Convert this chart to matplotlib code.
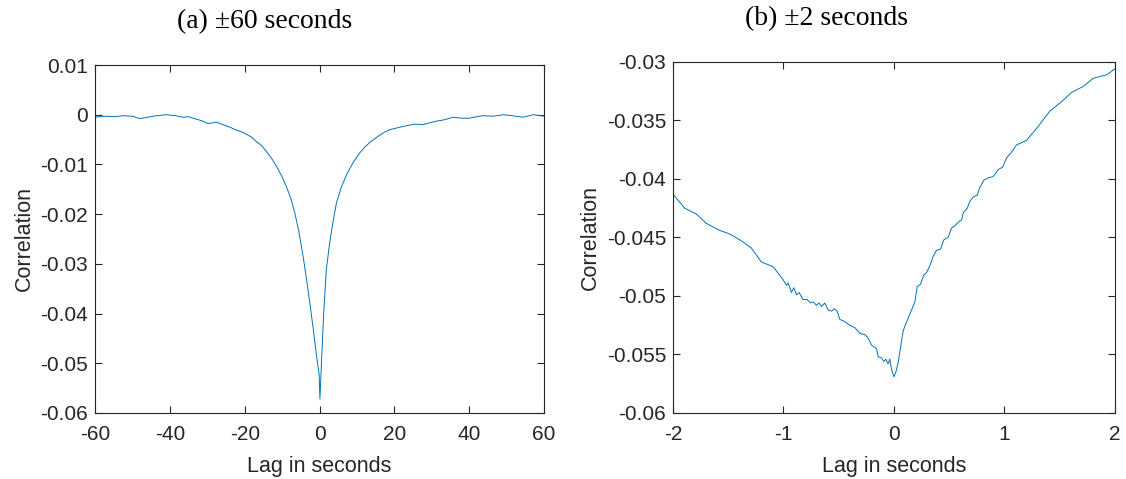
import matplotlib
matplotlib.use("Agg")
import matplotlib.pyplot as plt
from matplotlib.ticker import FuncFormatter

plt.rcParams["font.family"] = ["Liberation Sans", "DejaVu Sans"]
plt.rcParams["axes.unicode_minus"] = False

# (a) +-60 seconds
lag_a = [-60, -57, -54.5, -52.5, -50, -48, -46, -43.5, -41, -38.5, -36.5, -35, -33.4,
         -31.5, -29.8, -27.6, -25.8, -24, -22.2, -21, -19.6, -18.2, -16.9, -15.5, -14.2,
         -12.8, -11.5, -10.2, -8.9, -7.7, -6.6, -5.5, -4.4, -3.5, -2.6, -1.7, -0.8,
         -0.1, 0.1, 0.5, 1.1, 1.8, 2.7, 3.6, 4.5, 5.8, 7.2, 8.9, 10.7, 12, 13.4, 14.8,
         16.1, 17.4, 18.8, 21, 23.2, 25.5, 27.7, 29.5, 31.2, 33.5, 35.7, 38, 40.1, 42,
         43.7, 46.5, 49.1, 51.5, 54.4, 57.1, 60]
corr_a = [-0.0005, -0.0003, -0.0004, -0.0002, -0.0003, -0.0008, -0.0005, -0.0002, 0.0,
          -0.0002, -0.0005, -0.0004, -0.0008, -0.0012, -0.0018, -0.0015, -0.002,
          -0.0025, -0.0031, -0.0034, -0.0039, -0.0045, -0.0054, -0.0062, -0.0074,
          -0.0088, -0.0104, -0.0122, -0.0144, -0.0168, -0.0198, -0.0236, -0.0285,
          -0.0330, -0.0379, -0.0430, -0.0486, -0.0523, -0.0572, -0.0500, -0.0400,
          -0.0312, -0.0258, -0.0215, -0.0178, -0.0146, -0.0121, -0.0097, -0.0077,
          -0.0066, -0.0056, -0.0048, -0.0041, -0.0035, -0.0030, -0.0026, -0.0022,
          -0.0019, -0.0020, -0.0016, -0.0013, -0.0010, -0.0005, -0.0007, -0.0007,
          -0.0004, -0.0002, -0.0003, 0.0, -0.0002, -0.0005, 0.0, -0.0003]

# (b) +-2 seconds
lag_b = [-2.0, -1.894, -1.789, -1.698, -1.577, -1.487, -1.396, -1.291, -1.2, -1.094,
         -1.004, -0.973, -0.958, -0.928, -0.907, -0.882, -0.859, -0.823, -0.787,
         -0.756, -0.732, -0.701, -0.678, -0.656, -0.626, -0.596, -0.566, -0.536,
         -0.515, -0.490, -0.445, -0.400, -0.355, -0.309, -0.264, -0.234, -0.203,
         -0.158, -0.143, -0.113, -0.092, -0.074, -0.053, -0.038, -0.022, -0.001,
         0.017, 0.038, 0.059, 0.083, 0.098, 0.128, 0.159, 0.189, 0.210, 0.240, 0.270,
         0.295, 0.325, 0.355, 0.385, 0.421, 0.451, 0.490, 0.521, 0.551, 0.581, 0.612,
         0.627, 0.663, 0.687, 0.723, 0.753, 0.778, 0.814, 0.853, 0.898, 0.943, 0.983,
         1.019, 1.065, 1.109, 1.2, 1.306, 1.411, 1.517, 1.608, 1.713, 1.804, 1.925, 2.0]
corr_b = [-0.0413, -0.0425, -0.0430, -0.0438, -0.0444, -0.0447, -0.0452, -0.0459,
          -0.0471, -0.0475,
          -0.0486, -0.0491, -0.0489, -0.0497, -0.0493, -0.0499, -0.0497, -0.0503,
          -0.0503, -0.0506, -0.0505, -0.0508, -0.0506, -0.0509, -0.0506, -0.0512,
          -0.0513, -0.0511, -0.0513, -0.0520, -0.0522, -0.0525, -0.0527, -0.0532,
          -0.0533, -0.0536, -0.0542, -0.0545, -0.0552, -0.0553, -0.0556, -0.0554,
          -0.0558, -0.0554, -0.0563, -0.0569, -0.0565, -0.0557, -0.0544, -0.0530,
          -0.0526, -0.0519, -0.0512, -0.0505, -0.0492, -0.0490, -0.0482, -0.0480,
          -0.0474, -0.0466, -0.0461, -0.0460, -0.0452, -0.0450, -0.0442, -0.0440,
          -0.0437, -0.0435, -0.0429, -0.0425, -0.0419, -0.0415, -0.0414, -0.0407,
          -0.0401, -0.0399, -0.0398, -0.0392, -0.0390, -0.0382, -0.0377,
          -0.0371, -0.0367, -0.0355, -0.0342, -0.0334, -0.0326, -0.0321, -0.0314,
          -0.0311, -0.0306]

xticks_a = [-60, -40, -20, 0, 20, 40, 60]
yticks_a = [0.01, 0, -0.01, -0.02, -0.03, -0.04, -0.05, -0.06]
xticks_b = [-2, -1, 0, 1, 2]
yticks_b = [-0.03, -0.035, -0.04, -0.045, -0.05, -0.055, -0.06]

line_color = "#0072BD"
axis_color = "#262626"
fmt = FuncFormatter(lambda v, p: "%g" % round(v, 4))

fig = plt.figure(figsize=(11.26, 4.79), dpi=100)
ax1 = fig.add_axes([0.0844, 0.1378, 0.3988, 0.7265])
ax2 = fig.add_axes([0.5977, 0.1378, 0.3925, 0.733])

panels = [
    (ax1, lag_a, corr_a, xticks_a, yticks_a, (-60, 60), (-0.06, 0.01)),
    (ax2, lag_b, corr_b, xticks_b, yticks_b, (-2, 2), (-0.06, -0.03)),
]

for ax, x, y, xt, yt, xl, yl in panels:
    ax.plot(x, y, color=line_color, linewidth=0.7)
    ax.set_xlim(*xl)
    ax.set_ylim(*yl)
    ax.set_xticks(xt)
    ax.set_yticks(yt)
    ax.xaxis.set_major_formatter(fmt)
    ax.yaxis.set_major_formatter(fmt)
    ax.tick_params(direction="in", top=True, right=True, length=5, width=0.8,
                   colors=axis_color, labelsize=15)
    ax.tick_params(axis="x", pad=9)
    ax.tick_params(axis="y", pad=5)
    for s in ax.spines.values():
        s.set_color(axis_color)
        s.set_linewidth(0.8)
    ax.set_xlabel("Lag in seconds", fontsize=15.5, color=axis_color, labelpad=8)
    ax.set_ylabel("Correlation", fontsize=15.5, color=axis_color, labelpad=4)

# subcaptions, serif like the paper text
serif = ["Liberation Serif", "DejaVu Serif"]
fig.text(264.5 / 1126, 1 - 21.5 / 479, "(a) \u00b160 seconds", fontsize=20,
         family=serif, ha="center", va="center")
fig.text(826.5 / 1126, 1 - 18.5 / 479, "(b) \u00b12 seconds", fontsize=20,
         family=serif, ha="center", va="center")

fig.savefig("out.png", dpi=100)
